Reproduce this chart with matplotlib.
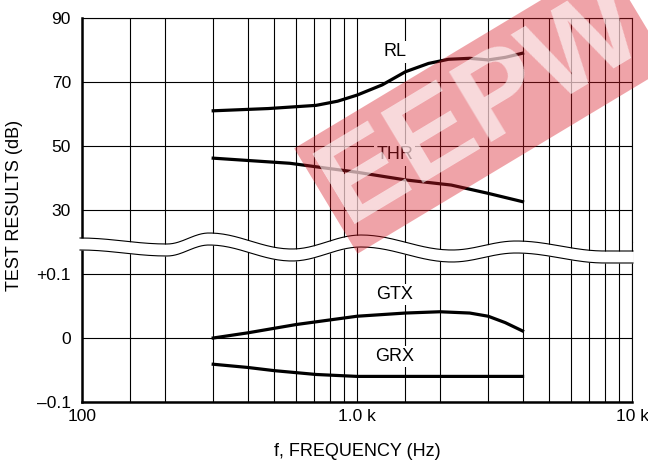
import numpy as np
import matplotlib
matplotlib.use("Agg")
import matplotlib.pyplot as plt
from matplotlib.ticker import NullFormatter

plt.rcParams['font.family'] = ['Liberation Sans', 'DejaVu Sans']

# upper panel (dB)
rl_freq = [300, 475, 710, 850, 1000, 1235, 1500, 1820, 2150, 2570, 3000, 3460, 4000]
rl_db = [61.0, 61.7, 62.7, 64.0, 65.9, 69.1, 73.2, 75.8, 77.1, 77.4, 76.9, 77.7, 79.0]
thr_freq = [300, 570, 1000, 1500, 2200, 3000, 4000]
thr_db = [46.2, 44.6, 41.8, 39.4, 37.8, 35.2, 32.6]
# lower panel (dB, gain)
gtx_freq = [300, 400, 600, 1000, 1500, 2000, 2570, 3000, 3460, 4000]
gtx_db = [0.0, 0.008, 0.021, 0.034, 0.039, 0.041, 0.039, 0.034, 0.024, 0.011]
grx_freq = [300, 400, 500, 710, 1000, 4000]
grx_db = [-0.041, -0.046, -0.051, -0.057, -0.060, -0.060]

grid_freqs = [150, 200, 300, 400, 500, 600, 700, 800, 900,
              1500, 2000, 3000, 4000, 5000, 6000, 7000, 8000, 9000]
x_ticks = [100, 1000, 10000]
x_labels = ["100", "1.0 k", "10 k"]
top_ticks = [30, 50, 70, 90]
bot_ticks = [-0.1, 0, 0.1]
bot_labels = ["\u20130.1", "0", "+0.1"]

W, H = 648, 466
fig = plt.figure(figsize=(W / 100, H / 100), dpi=100)
L, R = 82, 632
ax_top = fig.add_axes([L / W, 1 - 242 / H, (R - L) / W, 224 / H])
ax_bot = fig.add_axes([L / W, 1 - 402 / H, (R - L) / W, 160 / H])

for ax in (ax_top, ax_bot):
    ax.set_xscale("log")
    ax.set_xlim(100, 10000)
    ax.set_xticks(x_ticks)
    ax.set_xticks(grid_freqs, minor=True)
    ax.xaxis.set_minor_formatter(NullFormatter())
    ax.grid(True, which="both", axis="x", color="black", lw=0.8)
    ax.grid(True, which="major", axis="y", color="black", lw=0.8)
    ax.tick_params(which="both", length=0, labelsize=12.5)
    ax.spines["left"].set_linewidth(1.8)
    ax.spines["right"].set_linewidth(0.8)
    ax.spines["top"].set_linewidth(0.8)
    ax.spines["bottom"].set_linewidth(1.8)
    ax.set_axisbelow(True)

ax_top.set_ylim(20, 90)
ax_top.set_yticks(top_ticks)
ax_top.spines["bottom"].set_visible(False)
ax_top.tick_params(labelbottom=False, pad=8)
ax_bot.set_ylim(-0.1, 0.15)
ax_bot.set_yticks(bot_ticks)
ax_bot.set_yticklabels(bot_labels)
ax_bot.spines["top"].set_visible(False)
ax_bot.set_xticklabels(x_labels)
ax_bot.tick_params(axis="y", pad=8)
ax_bot.tick_params(axis="x", pad=5)

lw = 2.3
ax_top.plot(rl_freq, rl_db, color="black", lw=lw)
ax_top.plot(thr_freq, thr_db, color="black", lw=lw)
ax_bot.plot(gtx_freq, gtx_db, color="black", lw=lw)
ax_bot.plot(grx_freq, grx_db, color="black", lw=lw)

box = dict(facecolor="white", edgecolor="none", pad=1.5)
ax_top.text(1370, 79.4, "RL", ha="center", va="center", fontsize=13, bbox=box)
ax_top.text(1370, 47.2, "THR", ha="center", va="center", fontsize=13, bbox=box)
ax_bot.text(1370, 0.068, "GTX", ha="center", va="center", fontsize=13, bbox=box)
ax_bot.text(1370, -0.029, "GRX", ha="center", va="center", fontsize=13, bbox=box)

fig.text(15 / W, 1 - 205 / H, "TEST RESULTS (dB)", rotation=90,
         ha="center", va="center", fontsize=13)
fig.text((L + R) / 2 / W, 1 - 452 / H, "f, FREQUENCY (Hz)",
         ha="center", va="center", fontsize=13)

# wavy axis break, in figure pixels
ov = fig.add_axes([0, 0, 1, 1], zorder=2)
ov.set_xlim(0, W)
ov.set_ylim(H, 0)
ov.axis("off")
ov.patch.set_visible(False)
wave_x = [80, 167, 209, 292, 361, 452, 516, 605, 633]
wave_y = [238, 244, 233, 249, 235, 250, 241, 251, 251]
xs, ys = [], []
for i in range(len(wave_x) - 1):
    t = np.linspace(0, 1, 30)
    xs.extend(wave_x[i] + (wave_x[i + 1] - wave_x[i]) * t)
    ys.extend(wave_y[i] + (wave_y[i + 1] - wave_y[i]) * (1 - np.cos(np.pi * t)) / 2)
xs = np.array(xs)
ys = np.array(ys)
gap = 12
ov.fill_between(xs, ys, ys + gap, color="white", lw=0)
ov.plot(xs, ys, color="black", lw=0.8)
ov.plot(xs, ys + gap, color="black", lw=0.8)

# watermark
fig.text(331 / W, 1 - 198 / H, "EEPW", rotation=31, rotation_mode="anchor",
         ha="left", va="center", fontsize=86, fontweight="bold",
         color=(1, 1, 1, 0.6), zorder=10,
         bbox=dict(boxstyle="square,pad=0.05", facecolor=(0.85, 0.1, 0.15, 0.4),
                   edgecolor="none"))

fig.savefig("out.png", dpi=100)
